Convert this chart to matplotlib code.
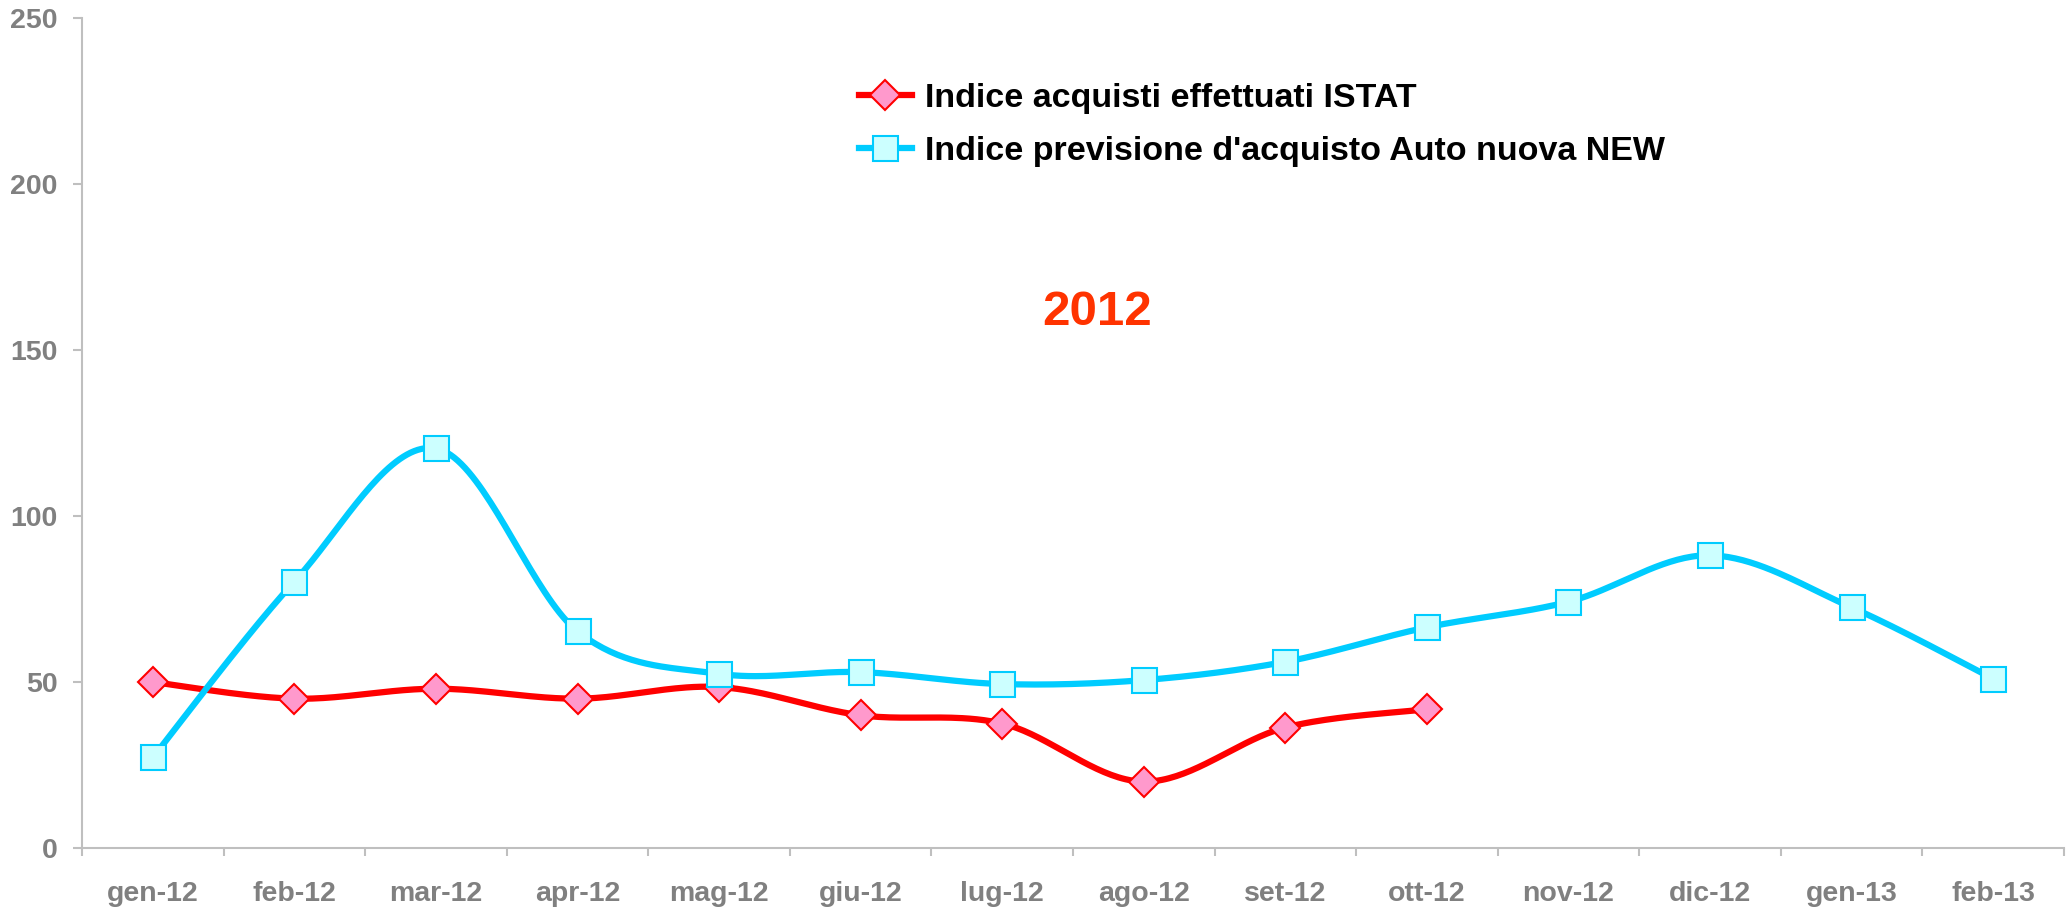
import numpy as np
import matplotlib.pyplot as plt
from matplotlib.lines import Line2D

plt.rcParams['font.family'] = ['Liberation Sans', 'DejaVu Sans']
plt.rcParams['font.weight'] = 'bold'

months = ['gen-12', 'feb-12', 'mar-12', 'apr-12', 'mag-12', 'giu-12', 'lug-12',
          'ago-12', 'set-12', 'ott-12', 'nov-12', 'dic-12', 'gen-13', 'feb-13']
istat = [50, 45, 48, 45, 48.5, 40, 37.5, 20, 36.3, 41.8]
previsione = [27.3, 80.3, 120.4, 65.3, 52.5, 53, 49.4, 50.6, 56.1, 66.5, 74.2, 88.2, 72.5, 51]
yticks = [0, 50, 100, 150, 200, 250]

label_istat = 'Indice acquisti effettuati ISTAT'
label_prev = "Indice previsione d'acquisto Auto nuova NEW"


# smooth line like excel (catmull-rom bezier)
def smooth(xs, ys, n=40):
    p = np.column_stack([xs, ys]).astype(float)
    out = []
    for i in range(len(p) - 1):
        p0 = p[i - 1] if i > 0 else p[i]
        p1 = p[i]
        p2 = p[i + 1]
        p3 = p[i + 2] if i + 2 < len(p) else p[i + 1]
        c1 = p1 + (p2 - p0) / 6
        c2 = p2 - (p3 - p1) / 6
        t = np.linspace(0, 1, n)[:, None]
        seg = ((1 - t) ** 3) * p1 + 3 * ((1 - t) ** 2) * t * c1 + 3 * (1 - t) * t ** 2 * c2 + t ** 3 * p2
        out.append(seg if i == 0 else seg[1:])
    out = np.vstack(out)
    return out[:, 0], out[:, 1]


fig = plt.figure(figsize=(20.72, 9.11), dpi=100)
ax = fig.add_axes([0.0396, 0.0692, 0.9565, 0.9105])

red = '#FF0000'
cyan = '#00CCFF'
lw = 4.5

x1 = np.arange(len(istat)) + 0.5
x2 = np.arange(len(previsione)) + 0.5

sx, sy = smooth(x1, istat)
ax.plot(sx, sy, color=red, lw=lw, solid_capstyle='round', zorder=2)
ax.plot(x1, istat, ls='none', marker='D', ms=15, mfc='#FF99CC', mec=red, mew=1.5, zorder=3)

sx, sy = smooth(x2, previsione)
ax.plot(sx, sy, color=cyan, lw=lw, solid_capstyle='round', zorder=4)
ax.plot(x2, previsione, ls='none', marker='s', ms=18, mfc='#CCFFFF', mec=cyan, mew=1.5, zorder=5)

ax.set_xlim(0, len(months))
ax.set_ylim(0, 250)

ax.set_xticks(np.arange(len(months) + 1))
ax.set_xticklabels([])
ax.set_xticks(x2, minor=True)
ax.set_xticklabels(months, minor=True, fontsize=20.5, color='#808080', fontweight='bold')
ax.tick_params(axis='x', which='major', direction='out', length=6, width=1.5, color='#BFBFBF')
ax.tick_params(axis='x', which='minor', length=0, pad=24)

ax.set_yticks(yticks)
ax.set_yticklabels([str(v) for v in yticks], fontsize=20.5, color='#808080', fontweight='bold')
ax.tick_params(axis='y', direction='out', length=6.5, width=1.5, color='#BFBFBF', pad=11)

for s in ['top', 'right']:
    ax.spines[s].set_visible(False)
for s in ['left', 'bottom']:
    ax.spines[s].set_color('#BFBFBF')
    ax.spines[s].set_linewidth(1.5)

ax.text(0.512, 0.646, '2012', transform=ax.transAxes, ha='center', va='center',
        fontsize=35.5, fontweight='bold', color='#FF3300')

handles = [
    Line2D([], [], color=red, lw=lw, marker='D', ms=15, mfc='#FF99CC', mec=red, mew=1.5),
    Line2D([], [], color=cyan, lw=lw, marker='s', ms=18, mfc='#CCFFFF', mec=cyan, mew=1.5),
]
fig.legend(handles, [label_istat, label_prev], loc='upper left',
           bbox_to_anchor=(0.4146, 0.909), frameon=False, fontsize=24.5,
           handlelength=1.55, handletextpad=0.4, labelspacing=0.65,
           borderpad=0, borderaxespad=0)

plt.savefig('out.png', dpi=100)
